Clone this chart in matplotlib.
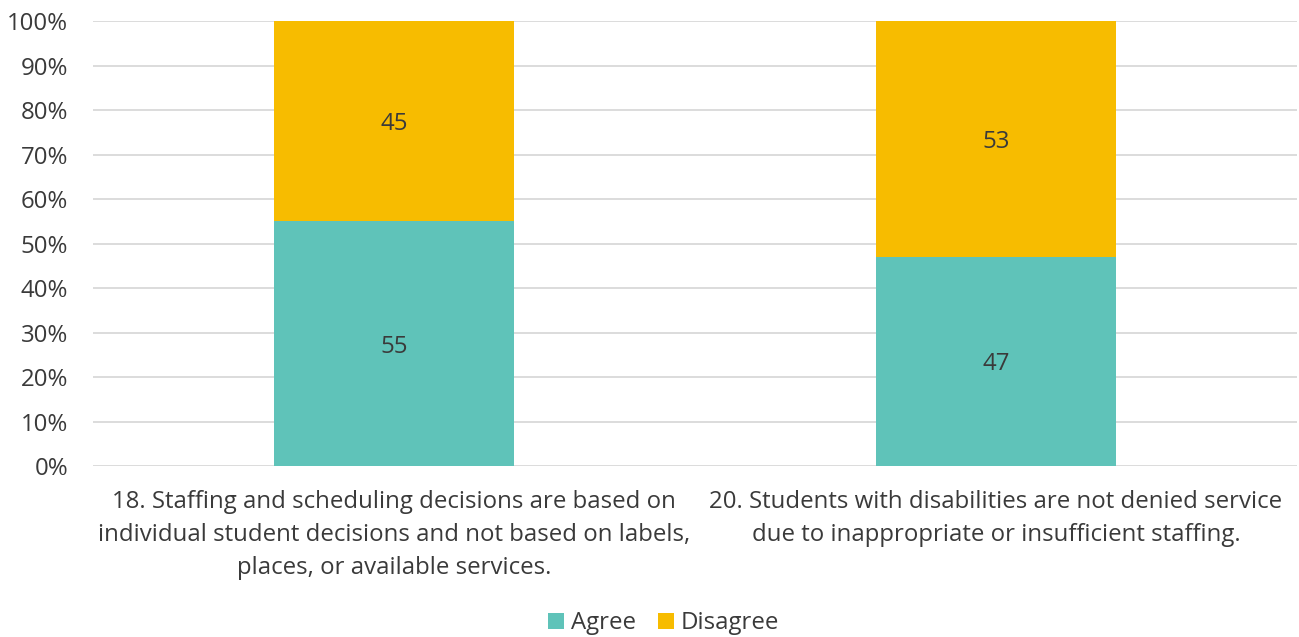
import matplotlib
matplotlib.use("Agg")
import matplotlib.pyplot as plt
from matplotlib.patches import Patch
import numpy as np

categories = [
    "18. Staffing and scheduling decisions are based on\nindividual student decisions and not based on labels,\nplaces, or available services.",
    "20. Students with disabilities are not denied service\ndue to inappropriate or insufficient staffing.",
]
agree = [55, 47]
disagree = [45, 53]
series_names = ["Agree", "Disagree"]
colors = ["#5FC3B9", "#F7BC00"]
text_color = "#3A3A3A"

plt.rcParams["font.family"] = ["Open Sans", "DejaVu Sans"]
fs = 17.3

fig = plt.figure(figsize=(12.99, 6.37), dpi=100)
ax = fig.add_axes([0.0716, 0.2684, 0.9269, 0.6986])

x = np.arange(len(categories))
width = 0.4
b1 = ax.bar(x, agree, width, color=colors[0], zorder=3)
b2 = ax.bar(x, disagree, width, bottom=agree, color=colors[1], zorder=3)

for bars, vals, bottoms in ((b1, agree, [0, 0]), (b2, disagree, agree)):
    for rect, v, b in zip(bars, vals, bottoms):
        ax.text(rect.get_x() + rect.get_width() / 2, b + v / 2, f"{v}",
                ha="center", va="center_baseline", fontsize=fs,
                color=text_color, zorder=4)

ax.set_xlim(-0.5, len(categories) - 0.5)
ax.set_ylim(0, 100)
ax.set_yticks(np.arange(0, 101, 10))
ax.set_yticklabels([f"{t}%" for t in range(0, 101, 10)])
ax.set_xticks(x)
ax.set_xticklabels(categories, fontsize=fs, color=text_color, linespacing=1.52)
ax.tick_params(axis="y", labelsize=fs, labelcolor=text_color, length=0, pad=18)
ax.tick_params(axis="x", length=0, pad=17)
ax.grid(axis="y", color="#D9D9D9", linewidth=1.3, zorder=0)
for s in ax.spines.values():
    s.set_visible(False)

handles = [Patch(facecolor=c, edgecolor="none") for c in colors]
fig.legend(handles, series_names, loc="center", bbox_to_anchor=(0.511, 0.022),
           ncol=2, frameon=False, fontsize=fs, handlelength=0.65, handleheight=0.65,
           handletextpad=0.3, columnspacing=0.9, labelcolor=text_color)

fig.savefig("out.png", dpi=100)
